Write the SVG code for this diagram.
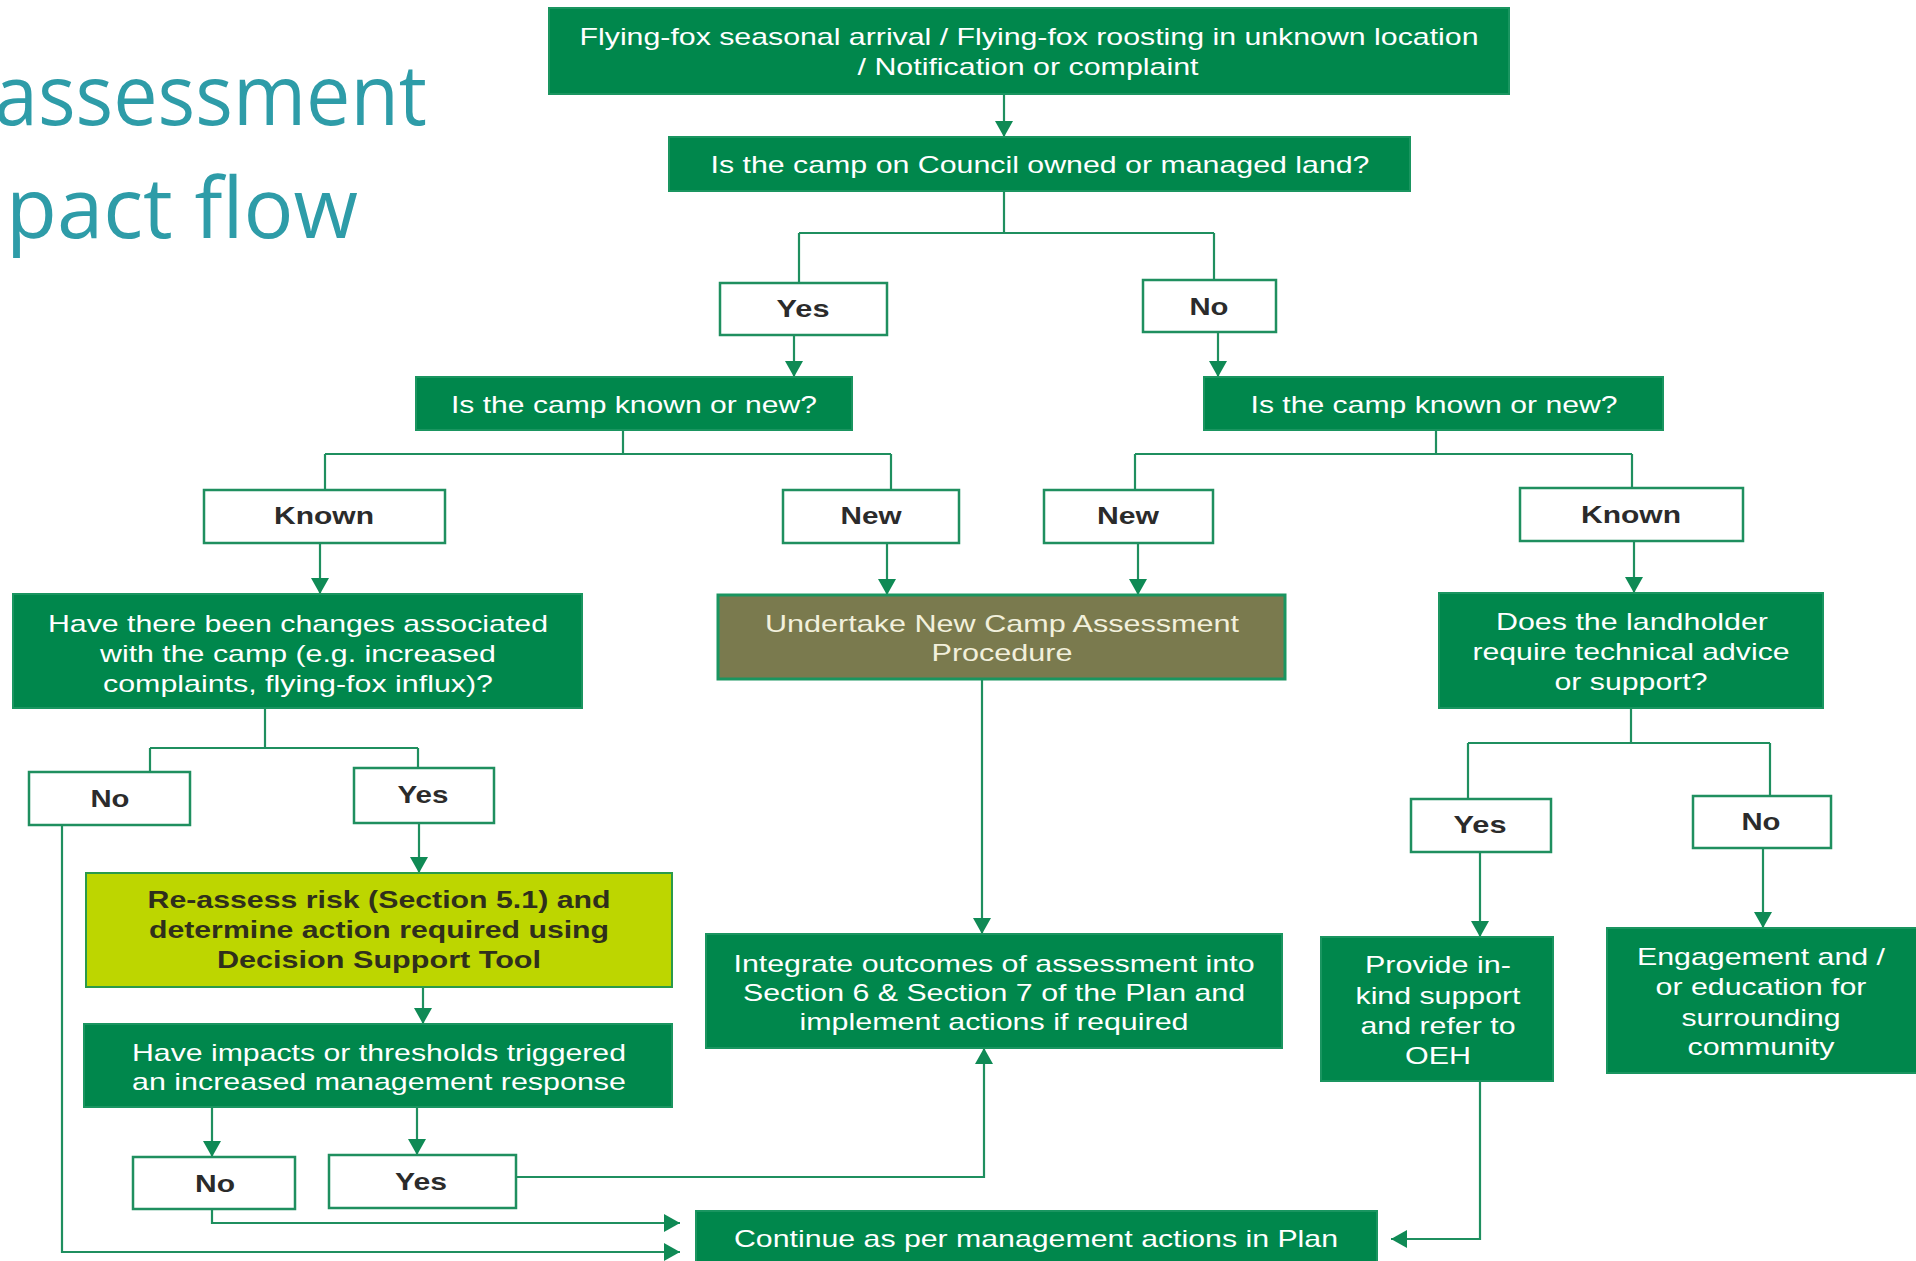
<svg xmlns="http://www.w3.org/2000/svg" width="1916" height="1261" viewBox="0 0 1916 1261">
<defs>
<marker id="arr" viewBox="0 0 16 18" markerWidth="16" markerHeight="18" refX="16" refY="9" markerUnits="userSpaceOnUse" orient="auto">
<path d="M0,0 L16,9 L0,18 z" fill="#0f8a55"/>
</marker>
</defs>
<style>
.g rect{fill:#00874c;stroke:#1a9560;stroke-width:2}
.w rect{fill:#ffffff;stroke:#1f8f5f;stroke-width:2.5}
.o rect{fill:#7a7a4e;stroke:#1a9560;stroke-width:3}
.y rect{fill:#bdd600;stroke:#2a9a4a;stroke-width:2}
.g text{fill:#ffffff;font-family:"Liberation Sans",Arial,sans-serif;font-size:24px;text-anchor:middle}
.o text{fill:#f2f0dc;font-family:"Liberation Sans",Arial,sans-serif;font-size:24px;text-anchor:middle}
.w text{fill:#2b2b2b;font-family:"Liberation Sans",Arial,sans-serif;font-size:24px;font-weight:bold;text-anchor:middle}
.y text{fill:#2f2f1c;font-family:"Liberation Sans",Arial,sans-serif;font-size:24px;font-weight:bold;text-anchor:middle}
.title{fill:#2e9ca8;font-family:"Open Sans","Liberation Sans",sans-serif;font-size:84px}
#connectors path{fill:none;stroke:#1f8f5f;stroke-width:2.2}
#connectors .a{marker-end:url(#arr)}
</style>

<g id="title">
<text class="title" x="-6" y="125" textLength="433" lengthAdjust="spacingAndGlyphs">assessment</text>
<text class="title" x="6" y="238" textLength="352" lengthAdjust="spacingAndGlyphs">pact flow</text>
</g>

<g id="connectors">
<path class="a" d="M1004,94 V137"/>
<path d="M1004,191 V233 M799,233 H1214 M799,233 V283 M1214,233 V280"/>
<path class="a" d="M794,335 V377"/>
<path class="a" d="M1218,332 V377"/>
<path d="M623,430 V454 M325,454 H891 M325,454 V490 M891,454 V490"/>
<path d="M1436,430 V454 M1135,454 H1632 M1135,454 V490 M1632,454 V488"/>
<path class="a" d="M320,543 V594"/>
<path class="a" d="M887,543 V595"/>
<path class="a" d="M1138,543 V595"/>
<path class="a" d="M1634,541 V593"/>
<path d="M265,708 V748 M150,748 H418 M150,748 V772 M418,748 V768"/>
<path class="a" d="M419,823 V873"/>
<path class="a" d="M62,825 V1252 H680"/>
<path class="a" d="M423,987 V1024"/>
<path class="a" d="M212,1107 V1157"/>
<path class="a" d="M417,1107 V1155"/>
<path class="a" d="M212,1209 V1223 H680"/>
<path class="a" d="M516,1177 H984 V1048"/>
<path class="a" d="M982,679 V934"/>
<path d="M1631,708 V743 M1468,743 H1770 M1468,743 V799 M1770,743 V796"/>
<path class="a" d="M1480,852 V937"/>
<path class="a" d="M1763,848 V928"/>
<path class="a" d="M1480,1081 V1239 H1391"/>
</g>

<g id="n-start" class="g">
<rect x="549" y="8" width="960" height="86"/>
<text x="1029" y="45" textLength="899" lengthAdjust="spacingAndGlyphs">Flying-fox seasonal arrival / Flying-fox roosting in unknown location</text>
<text x="1028" y="75" textLength="341" lengthAdjust="spacingAndGlyphs">/ Notification or complaint</text>
</g>
<g id="n-council" class="g">
<rect x="669" y="137" width="741" height="54"/>
<text x="1040" y="173" textLength="659" lengthAdjust="spacingAndGlyphs">Is the camp on Council owned or managed land?</text>
</g>
<g id="n-yes-council" class="w">
<rect x="720" y="283" width="167" height="52"/>
<text x="803" y="317" textLength="53" lengthAdjust="spacingAndGlyphs">Yes</text>
</g>
<g id="n-no-council" class="w">
<rect x="1143" y="280" width="133" height="52"/>
<text x="1209" y="315" textLength="39" lengthAdjust="spacingAndGlyphs">No</text>
</g>
<g id="n-known-new-left" class="g">
<rect x="416" y="377" width="436" height="53"/>
<text x="634" y="413" textLength="366" lengthAdjust="spacingAndGlyphs">Is the camp known or new?</text>
</g>
<g id="n-known-new-right" class="g">
<rect x="1204" y="377" width="459" height="53"/>
<text x="1434" y="413" textLength="367" lengthAdjust="spacingAndGlyphs">Is the camp known or new?</text>
</g>
<g id="n-known-left" class="w">
<rect x="204" y="490" width="241" height="53"/>
<text x="324" y="524" textLength="100" lengthAdjust="spacingAndGlyphs">Known</text>
</g>
<g id="n-new-left" class="w">
<rect x="783" y="490" width="176" height="53"/>
<text x="871" y="524" textLength="61" lengthAdjust="spacingAndGlyphs">New</text>
</g>
<g id="n-new-right" class="w">
<rect x="1044" y="490" width="169" height="53"/>
<text x="1128" y="524" textLength="62" lengthAdjust="spacingAndGlyphs">New</text>
</g>
<g id="n-known-right" class="w">
<rect x="1520" y="488" width="223" height="53"/>
<text x="1631" y="523" textLength="100" lengthAdjust="spacingAndGlyphs">Known</text>
</g>
<g id="n-changes" class="g">
<rect x="13" y="594" width="569" height="114"/>
<text x="298" y="632" textLength="500" lengthAdjust="spacingAndGlyphs">Have there been changes associated</text>
<text x="298" y="662" textLength="396" lengthAdjust="spacingAndGlyphs">with the camp (e.g. increased</text>
<text x="298" y="692" textLength="390" lengthAdjust="spacingAndGlyphs">complaints, flying-fox influx)?</text>
</g>
<g id="n-undertake" class="o">
<rect x="718" y="595" width="567" height="84"/>
<text x="1002" y="632" textLength="474" lengthAdjust="spacingAndGlyphs">Undertake New Camp Assessment</text>
<text x="1002" y="661" textLength="141" lengthAdjust="spacingAndGlyphs">Procedure</text>
</g>
<g id="n-landholder" class="g">
<rect x="1439" y="593" width="384" height="115"/>
<text x="1632" y="630" textLength="272" lengthAdjust="spacingAndGlyphs">Does the landholder</text>
<text x="1631" y="660" textLength="317" lengthAdjust="spacingAndGlyphs">require technical advice</text>
<text x="1631" y="690" textLength="153" lengthAdjust="spacingAndGlyphs">or support?</text>
</g>
<g id="n-no-changes" class="w">
<rect x="29" y="772" width="161" height="53"/>
<text x="110" y="807" textLength="39" lengthAdjust="spacingAndGlyphs">No</text>
</g>
<g id="n-yes-changes" class="w">
<rect x="354" y="768" width="140" height="55"/>
<text x="423" y="803" textLength="51" lengthAdjust="spacingAndGlyphs">Yes</text>
</g>
<g id="n-yes-landholder" class="w">
<rect x="1411" y="799" width="140" height="53"/>
<text x="1480" y="833" textLength="53" lengthAdjust="spacingAndGlyphs">Yes</text>
</g>
<g id="n-no-landholder" class="w">
<rect x="1693" y="796" width="138" height="52"/>
<text x="1761" y="830" textLength="39" lengthAdjust="spacingAndGlyphs">No</text>
</g>
<g id="n-reassess" class="y">
<rect x="86" y="873" width="586" height="114"/>
<text x="379" y="908" textLength="463" lengthAdjust="spacingAndGlyphs">Re-assess risk (Section 5.1) and</text>
<text x="379" y="938" textLength="460" lengthAdjust="spacingAndGlyphs">determine action required using</text>
<text x="379" y="968" textLength="324" lengthAdjust="spacingAndGlyphs">Decision Support Tool</text>
</g>
<g id="n-impacts" class="g">
<rect x="84" y="1024" width="588" height="83"/>
<text x="379" y="1061" textLength="494" lengthAdjust="spacingAndGlyphs">Have impacts or thresholds triggered</text>
<text x="379" y="1090" textLength="494" lengthAdjust="spacingAndGlyphs">an increased management response</text>
</g>
<g id="n-integrate" class="g">
<rect x="706" y="934" width="576" height="114"/>
<text x="994" y="972" textLength="521" lengthAdjust="spacingAndGlyphs">Integrate outcomes of assessment into</text>
<text x="994" y="1001" textLength="502" lengthAdjust="spacingAndGlyphs">Section 6 &amp; Section 7 of the Plan and</text>
<text x="994" y="1030" textLength="389" lengthAdjust="spacingAndGlyphs">implement actions if required</text>
</g>
<g id="n-provide" class="g">
<rect x="1321" y="937" width="232" height="144"/>
<text x="1438" y="973" textLength="146" lengthAdjust="spacingAndGlyphs">Provide in-</text>
<text x="1438" y="1004" textLength="165" lengthAdjust="spacingAndGlyphs">kind support</text>
<text x="1438" y="1034" textLength="155" lengthAdjust="spacingAndGlyphs">and refer to</text>
<text x="1438" y="1064" textLength="66" lengthAdjust="spacingAndGlyphs">OEH</text>
</g>
<g id="n-engage" class="g">
<rect x="1607" y="928" width="312" height="145"/>
<text x="1761" y="965" textLength="248" lengthAdjust="spacingAndGlyphs">Engagement and /</text>
<text x="1761" y="995" textLength="211" lengthAdjust="spacingAndGlyphs">or education for</text>
<text x="1761" y="1026" textLength="159" lengthAdjust="spacingAndGlyphs">surrounding</text>
<text x="1761" y="1055" textLength="147" lengthAdjust="spacingAndGlyphs">community</text>
</g>
<g id="n-no-impacts" class="w">
<rect x="133" y="1157" width="162" height="52"/>
<text x="215" y="1192" textLength="40" lengthAdjust="spacingAndGlyphs">No</text>
</g>
<g id="n-yes-impacts" class="w">
<rect x="329" y="1155" width="187" height="53"/>
<text x="421" y="1190" textLength="52" lengthAdjust="spacingAndGlyphs">Yes</text>
</g>
<g id="n-continue" class="g">
<rect x="696" y="1211" width="681" height="60"/>
<text x="1036" y="1247" textLength="604" lengthAdjust="spacingAndGlyphs">Continue as per management actions in Plan</text>
</g>
</svg>
